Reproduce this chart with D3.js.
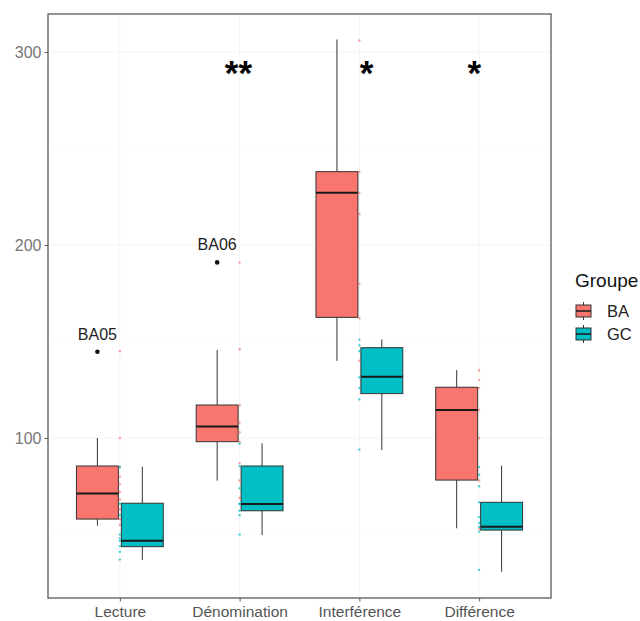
<!DOCTYPE html>
<html><head><meta charset="utf-8">
<script src="https://cdn.jsdelivr.net/npm/d3@7"></script>
<style>body{margin:0;background:#fff}svg{display:block}text{font-family:"Liberation Sans",Arial,sans-serif}</style>
</head><body><svg id="c" width="640" height="621"></svg>
<script>
const categories = ["Lecture","Dénomination","Interférence","Différence"];
const groups = ["BA","GC"];
const colors = ["#F8766D","#00BFC4"];
// box statistics per category [Lecture, Dénomination, Interférence, Différence]
const baLow = [54.6, 77.9, 140, 53.2];
const baQ1  = [58, 98.1, 162.5, 78.2];
const baMed = [71.3, 105.9, 227.1, 114.5];
const baQ3  = [85.5, 117.1, 238, 126.3];
const baHigh= [100, 145.6, 306.5, 135.2];
const gcLow = [36.8, 49.7, 93.8, 30.7];
const gcQ1  = [43.7, 62.3, 123, 52.3];
const gcMed = [46.8, 65.8, 131.8, 54.0];
const gcQ3  = [66.2, 85.5, 146.8, 66.7];
const gcHigh= [85.1, 97.2, 151.1, 85.7];
// outliers
const outCat = ["Lecture","Dénomination"];
const outVal = [144.7, 191];
const outLab = ["BA05","BA06"];
// individual observations (drawn at category centre)
const baPts = [
  [145, 100, 85, 80, 76, 72, 68, 63, 58, 55],
  [191, 146, 117, 108, 103, 98, 87, 78, 69],
  [306, 238, 227, 216, 180, 162, 140],
  [135, 130, 126, 114.5, 100, 78, 53]
];
const gcPts = [
  [85, 66, 60, 50, 48, 46.8, 44, 41, 37],
  [97, 85.5, 74, 66, 65.8, 62.3, 60, 50],
  [151, 148, 145, 131.4, 126, 120, 94],
  [85, 81, 75, 66.7, 59, 56, 54, 51.5, 31.6]
];
// significance annotations (x in category units, 1-based)
const sigText = ["**","*","*"];
const sigX = [1.99, 3.06, 3.96];
const sigY = 291.7;
const yTicks = [100, 200, 300];

const svg = d3.select("#c");
const L = 48, R = 551, T = 14, B = 598;
const x = d3.scalePoint().domain(categories).range([L, R]).padding(0.6);
const xNum = d3.scaleLinear().domain([0.4, 4.6]).range([L, R]);
const y = d3.scaleLinear().domain([17.1, 319.7]).range([B, T]);
const step = x.step();
const bw = 0.35 * step, off = 0.1875 * step;

// grid
const g = svg.append("g");
g.selectAll(".gm").data([50,150,250]).join("line")
  .attr("x1", L).attr("x2", R).attr("y1", d => y(d)).attr("y2", d => y(d))
  .attr("stroke", "#f8f8f8").attr("stroke-width", 0.6);
g.selectAll(".gy").data(yTicks).join("line")
  .attr("x1", L).attr("x2", R).attr("y1", d => y(d)).attr("y2", d => y(d))
  .attr("stroke", "#f4f4f4").attr("stroke-width", 1);
g.selectAll(".gx").data(categories).join("line")
  .attr("x1", d => x(d)).attr("x2", d => x(d)).attr("y1", T).attr("y2", B)
  .attr("stroke", "#f4f4f4").attr("stroke-width", 1);

// boxes
const stats = [
  {low: baLow, q1: baQ1, med: baMed, q3: baQ3, high: baHigh},
  {low: gcLow, q1: gcQ1, med: gcMed, q3: gcQ3, high: gcHigh}
];
groups.forEach((grp, gi) => {
  const s = stats[gi];
  categories.forEach((c, ci) => {
    const cx = x(c) + (gi === 0 ? -off : off);
    const bg = svg.append("g");
    bg.append("line").attr("x1", cx).attr("x2", cx)
      .attr("y1", y(s.high[ci])).attr("y2", y(s.q3[ci])).attr("stroke", "#333").attr("stroke-width", 1);
    bg.append("line").attr("x1", cx).attr("x2", cx)
      .attr("y1", y(s.q1[ci])).attr("y2", y(s.low[ci])).attr("stroke", "#333").attr("stroke-width", 1);
    bg.append("rect").attr("x", cx - bw/2).attr("width", bw)
      .attr("y", y(s.q3[ci])).attr("height", y(s.q1[ci]) - y(s.q3[ci]))
      .attr("fill", colors[gi]).attr("stroke", "#333").attr("stroke-width", 1);
    bg.append("line").attr("x1", cx - bw/2).attr("x2", cx + bw/2)
      .attr("y1", y(s.med[ci])).attr("y2", y(s.med[ci])).attr("stroke", "#1a1a1a").attr("stroke-width", 2);
  });
});

// jittered observation points
[baPts, gcPts].forEach((pts, gi) => {
  pts.forEach((arr, ci) => {
    svg.append("g").selectAll("circle").data(arr).join("circle")
      .attr("cx", x(categories[ci])).attr("cy", d => y(d)).attr("r", 1.2)
      .attr("fill", colors[gi]).attr("opacity", 0.7);
  });
});

// outliers
outCat.forEach((c, i) => {
  const cx = x(c) - off;
  svg.append("circle").attr("cx", cx).attr("cy", y(outVal[i])).attr("r", 2.3).attr("fill", "#111");
  svg.append("text").attr("x", cx).attr("y", y(outVal[i]) - 12)
    .attr("text-anchor", "middle").attr("font-size", 16).attr("fill", "#222").text(outLab[i]);
});

// significance
sigText.forEach((t, i) => {
  svg.append("text").attr("x", xNum(sigX[i])).attr("y", y(sigY) + 17)
    .attr("text-anchor", "middle").attr("font-size", 35).attr("font-weight", "bold")
    .attr("fill", "#000").text(t);
});

// panel border
svg.append("rect").attr("x", L).attr("y", T).attr("width", R - L).attr("height", B - T)
  .attr("fill", "none").attr("stroke", "#5a5a5a").attr("stroke-width", 1.3);

// axes
const ya = svg.append("g").attr("transform", `translate(${L},0)`)
  .call(d3.axisLeft(y).tickValues(yTicks).tickSize(3.5).tickPadding(3));
ya.select(".domain").remove();
ya.selectAll("line").attr("stroke", "#5a5a5a");
ya.selectAll("text").attr("font-size", 16).attr("fill", "#777").attr("font-family", "Liberation Sans, Arial, sans-serif");
const xa = svg.append("g").attr("transform", `translate(0,${B})`)
  .call(d3.axisBottom(x).tickSize(3.5).tickPadding(4));
xa.select(".domain").remove();
xa.selectAll("line").attr("stroke", "#5a5a5a");
xa.selectAll("text").attr("font-size", 15.5).attr("fill", "#555").attr("font-family", "Liberation Sans, Arial, sans-serif");

// legend
const lg = svg.append("g");
lg.append("text").attr("x", 575).attr("y", 287).attr("font-size", 19).attr("fill", "#111").text("Groupe");
groups.forEach((grp, gi) => {
  const ky = 305 + gi * 23;
  const kg = lg.append("g");
  kg.append("line").attr("x1", 583.5).attr("x2", 583.5).attr("y1", ky - 3).attr("y2", ky + 15).attr("stroke", "#333");
  kg.append("rect").attr("x", 576).attr("y", ky).attr("width", 15).attr("height", 12)
    .attr("fill", colors[gi]).attr("stroke", "#333").attr("stroke-width", 1);
  kg.append("line").attr("x1", 576).attr("x2", 591).attr("y1", ky + 6).attr("y2", ky + 6).attr("stroke", "#1a1a1a").attr("stroke-width", 1.5);
  lg.append("text").attr("x", 607).attr("y", ky + 11.5).attr("font-size", 16.5).attr("fill", "#222").text(grp);
});
</script></body></html>
